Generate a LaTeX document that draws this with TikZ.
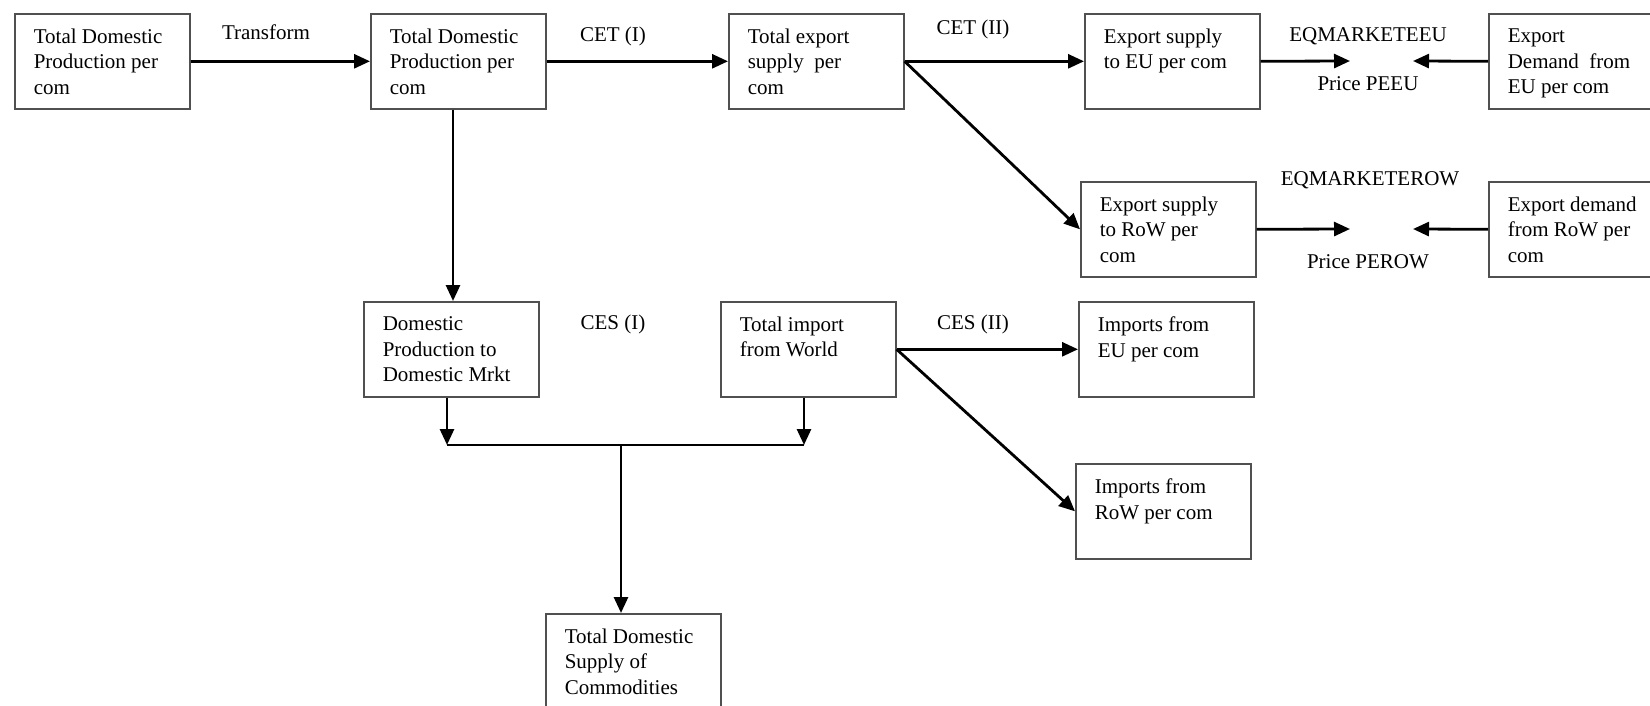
\documentclass[tikz,border=0pt]{standalone}
\usepackage{fontspec}
\setmainfont{Liberation Serif}
\usetikzlibrary{arrows.meta}
\definecolor{boxgray}{HTML}{505050}
\newcommand\bt[1]{\parbox[t][47.5pt][t]{68.5pt}{\vspace*{7.6pt}\raggedright #1}}
\tikzset{
  box/.style={draw=boxgray, line width=0.8pt, anchor=north west,
    inner xsep=9.5pt, inner ysep=0pt, font=\fontsize{10.5}{12.7}\selectfont},
  lbl/.style={inner sep=0pt, font=\fontsize{10.5}{12.7}\selectfont},
  arr/.style={line width=1.4pt, -{Triangle[length=8pt,width=7pt]}},
  ln/.style={line width=1.1pt}
}
\begin{document}
\begin{tikzpicture}[x=0.5pt,y=-0.5pt]
\useasboundingbox (0,0) rectangle (1650,706);
% top row
\node[box] (b1) at (14,13)   {\bt{Total Domestic\\Production per\\com}};
\node[box] (b2) at (370,13)  {\bt{Total Domestic\\Production per\\com}};
\node[box] (b3) at (728,13)  {\bt{Total export\\supply\ \ per\\com}};
\node[box] (b4) at (1084,13) {\bt{Export supply\\to EU per com}};
\node[box] (b5) at (1488,13) {\bt{Export\\Demand\ \ from\\EU per com}};
% second row
\node[box] (b6) at (1080,181) {\bt{Export supply\\to RoW per\\com}};
\node[box] (b7) at (1488,181) {\bt{Export demand\\from RoW per\\com}};
% third row
\node[box] (b8)  at (363,301)  {\bt{Domestic\\Production to\\Domestic Mrkt}};
\node[box] (b9)  at (720,301)  {\bt{Total import\\from World}};
\node[box] (b10) at (1078,301) {\bt{Imports from\\EU per com}};
\node[box] (b11) at (1075,463) {\bt{Imports from\\RoW per com}};
\node[box] (b12) at (545,613)  {\bt{Total Domestic\\Supply of\\Commodities}};

% labels
\node[lbl] (lt)   at (266,32)  {Transform};
\node[lbl] (lc1)  at (613,36)  {CET (I)};
\node[lbl] (lc2)  at (973,29)  {CET (II)};
\node[lbl] (leu)  at (1368,36) {EQMARKETEEU};
\node[lbl] (lpeu) at (1368,84) {Price PEEU};
\node[lbl] (lrow) at (1370,180) {EQMARKETEROW};
\node[lbl] (lprow) at (1368,262) {Price PEROW};
\node[lbl] (ls1)  at (613,324) {CES (I)};
\node[lbl] (ls2)  at (973,324) {CES (II)};

% market clearing points
\coordinate (meuL) at (1350,61);
\coordinate (meuR) at (1413,61);
\coordinate (mrowL) at (1350,229);
\coordinate (mrowR) at (1413,229);
% aggregation junction
\coordinate (jL) at (447,445);
\coordinate (jR) at (804,445);
\coordinate (jM) at (621,445);

% connectors
\draw[arr] (b1.east) -- (b2.west);
\draw[arr] (b2.east) -- (b3.west);
\draw[arr] (b3.east) -- (b4.west);
\draw[arr] (b3.east) -- (b6.west);
\draw[arr] (b4.east) -- (meuL);
\draw[arr] (b5.west) -- (meuR);
\draw[arr] (b6.east) -- (mrowL);
\draw[arr] (b7.west) -- (mrowR);
\draw[arr] (453,0 |- b2.south) -- (453,0 |- b8.north);
\draw[arr] (jL |- b8.south) -- (jL);
\draw[arr] (jR |- b9.south) -- (jR);
\draw[ln] (jL) -- (jR);
\draw[arr] (jM) -- (jM |- b12.north);
\draw[arr] (b9.east) -- (b10.west);
\draw[arr] (b9.east) -- (b11.west);
\end{tikzpicture}
\end{document}
